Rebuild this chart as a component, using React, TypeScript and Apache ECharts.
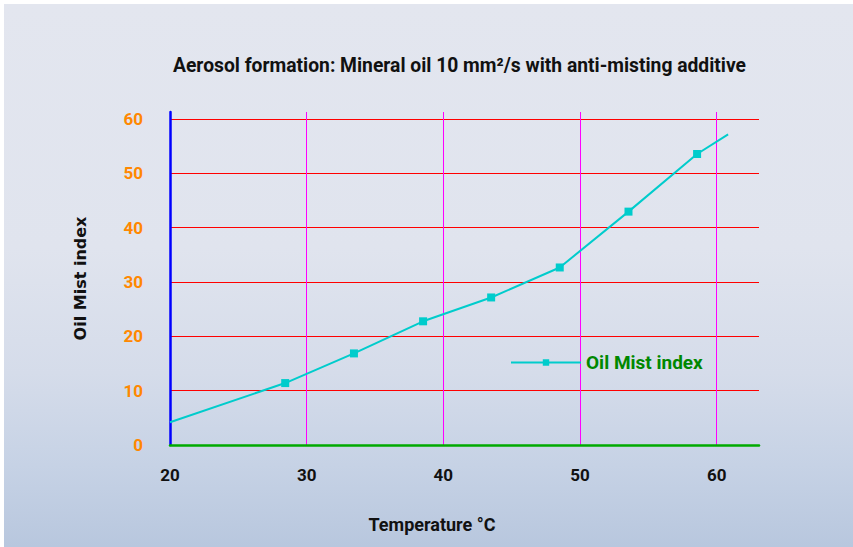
import React, { useEffect, useRef } from "react";
import * as echarts from "echarts";

const titleText = "Aerosol formation: Mineral oil 10 mm²/s with anti-misting additive";
const xName = "Temperature °C";
const yName = "Oil Mist index";
const seriesName = "Oil Mist index";

const temperatures = [20, 28.43, 33.46, 38.52, 43.5, 48.52, 53.55, 58.57, 60.84];
const mistIndex = [4.2, 11.4, 16.86, 22.77, 27.16, 32.68, 42.96, 53.57, 57.17];
const markedPoint = [false, true, true, true, true, true, true, true, false];

const xMin = 20;
const xMax = 63.1;
const yMin = 0;
const yMax = 61.3;

export default function App() {
  const ref = useRef<HTMLDivElement>(null);

  useEffect(() => {
    if (!ref.current) return;
    const chart = echarts.init(ref.current, null, { renderer: "svg" });
    const labelFont = "Roboto, 'Noto Sans', sans-serif";
    const data = temperatures.map((t, i) => ({
      value: [t, mistIndex[i]],
      symbol: markedPoint[i] ? "rect" : "none",
    }));
    chart.setOption({
      animation: false,
      backgroundColor: "transparent",
      title: {
        text: titleText,
        left: 168,
        top: 51,
        textStyle: {
          fontFamily: labelFont,
          fontWeight: "bold",
          fontSize: 19.3,
          color: "#111111",
        },
      },
      legend: {
        left: 510,
        top: 353,
        padding: 0,
        itemWidth: 70,
        itemHeight: 8,
        data: [seriesName],
        textStyle: {
          fontFamily: labelFont,
          fontWeight: "bold",
          fontSize: 19,
          color: "#008800",
        },
      },
      graphic: [
        {
          type: "text",
          x: 432,
          y: 524,
          silent: true,
          style: {
            text: xName,
            fontFamily: labelFont,
            fontWeight: "bold",
            fontSize: 18,
            fill: "#111111",
            align: "center",
            verticalAlign: "middle",
          },
        },
        {
          type: "text",
          x: 80.5,
          y: 278.5,
          rotation: Math.PI / 2,
          silent: true,
          style: {
            text: yName,
            fontFamily: "'DejaVu Sans', Verdana, sans-serif",
            fontWeight: "bold",
            fontSize: 16,
            fill: "#111111",
            align: "center",
            verticalAlign: "middle",
          },
        },
      ],
      grid: { left: 170, top: 112, width: 589, height: 333, containLabel: false },
      xAxis: {
        type: "value",
        min: xMin,
        max: xMax,
        interval: 10,
        axisLine: { show: true, lineStyle: { color: "#00aa00", width: 2.5 } },
        axisTick: { show: false },
        axisLabel: {
          margin: 21,
          showMaxLabel: false,
          fontFamily: labelFont,
          fontWeight: "bold",
          fontSize: 17,
          color: "#111111",
        },
        splitLine: {
          show: true,
          showMaxLine: false,
          lineStyle: { color: "#ff00ff", width: 1 },
        },
      },
      yAxis: {
        type: "value",
        min: yMin,
        max: yMax,
        interval: 10,
        axisLine: { show: true, lineStyle: { color: "#0000ff", width: 2.5 } },
        axisTick: { show: false },
        axisLabel: {
          margin: 27,
          showMaxLabel: false,
          fontFamily: labelFont,
          fontWeight: "bold",
          fontSize: 17,
          color: "#ff8800",
        },
        splitLine: {
          show: true,
          showMaxLine: false,
          lineStyle: { color: "#ff0000", width: 1 },
        },
      },
      series: [
        {
          name: seriesName,
          type: "line",
          data,
          symbolSize: 8,
          symbol: "rect",
          lineStyle: { color: "#00cccc", width: 2 },
          itemStyle: { color: "#00cccc" },
          z: 5,
        },
      ],
    });
    return () => chart.dispose();
  }, []);

  return (
    <div
      style={{
        position: "fixed",
        left: 0,
        top: 0,
        width: 853,
        height: 547,
        background: "#ffffff",
      }}
    >
      <div
        style={{
          position: "absolute",
          left: 4,
          top: 4,
          width: 849,
          height: 543,
          background:
            "linear-gradient(to bottom, #e3e6ef 0%, #e0e4ee 45%, #d5dcea 68%, #c6d2e5 85%, #b8c7de 100%)",
        }}
      />
      <div ref={ref} style={{ position: "absolute", left: 0, top: 0, width: 853, height: 547 }} />
    </div>
  );
}
